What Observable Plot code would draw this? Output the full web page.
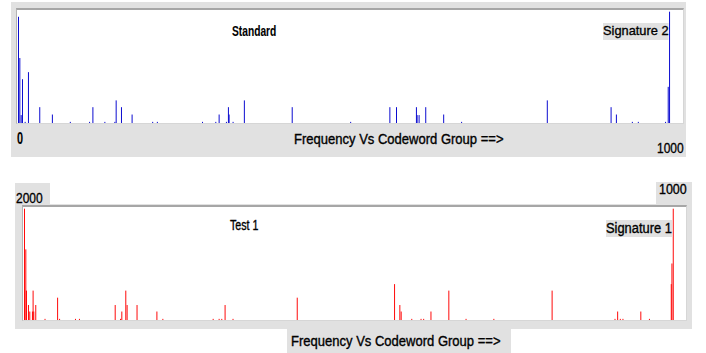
<!DOCTYPE html>
<html>
<head>
<meta charset="utf-8">
<script src="https://cdn.jsdelivr.net/npm/d3@7"></script>
<script src="https://cdn.jsdelivr.net/npm/@observablehq/plot@0.6"></script>
<style>
  html, body { margin: 0; padding: 0; background: #ffffff; }
  #page { position: relative; width: 706px; height: 353px; overflow: hidden; font-family: "Liberation Sans", Arial, sans-serif; color: #000; }
  .gray { position: absolute; background: #e1e1e1; }
  .well { position: absolute; background: #ffffff; border-top: 2px solid #a6a6a6; border-left: 1px solid #b4b4b4; border-right: 1px solid #d6d6d6; border-bottom: 1px solid #d6d6d6; }
  .well svg { display: block; }
  .lbl { position: absolute; white-space: nowrap; transform-origin: 0 0; -webkit-text-stroke: 0.35px #000; }
</style>
</head>
<body>
<div id="page"></div>
<script>
// ---- data ----
const xTickLabels = ["0", "1000"];
const yMaxLabel = "2000";
const axisTitle = "Frequency Vs Codeword Group ==>";
const panelTitles = ["Standard", "Test 1"];
const signatureLabels = ["Signature 2", "Signature 1"];

// Standard (blue) panel: codeword group and frequency
const stdGroups = [0,2,4,6,10,15,32,51,78,107,112,130,145,147,155,171,202,209,277,297,302,313,316,317,323,340,412,500,559,569,599,600,603,613,640,667,796,892,900,924,933,974,978,980];
const stdFreq   = [1880,1150,140,775,20,900,280,150,20,20,280,20,20,400,280,150,20,20,20,20,150,20,280,150,20,400,280,20,280,280,280,140,140,280,150,20,400,280,150,20,20,20,640,1970];

// Test 1 (red) panel
const testGroups = [0,2,3,6,8,12,13,14,17,31,50,53,77,83,137,145,147,153,155,170,200,209,285,294,298,303,315,412,559,567,569,585,599,603,614,641,667,709,797,892,896,900,904,931,944,977,978,980];
const testFreq   = [1970,1250,520,265,150,150,520,150,265,20,395,20,20,20,265,20,150,520,265,265,150,20,20,20,20,265,20,395,635,265,150,20,20,20,150,520,20,20,520,20,150,20,20,150,20,635,1000,1970];

const page = document.getElementById("page");

function box(cls, left, top, width, height) {
  const d = document.createElement("div");
  d.className = cls;
  Object.assign(d.style, {left: left + "px", top: top + "px", width: width + "px", height: height + "px"});
  page.appendChild(d);
  return d;
}
function label(text, left, top, size, opts = {}) {
  const d = document.createElement("div");
  d.className = "lbl";
  d.textContent = text;
  Object.assign(d.style, {
    left: left + "px", top: top + "px", fontSize: size + "px", lineHeight: size + "px",
    fontWeight: opts.bold ? "bold" : "normal",
    transform: "scaleX(" + (opts.sx || 1) + ")"
  });
  if (opts.bold) d.style.webkitTextStroke = "0.1px #000";
  if (opts.bg) { d.style.background = opts.bg; d.style.padding = "1px 0 2px 0"; }
  page.appendChild(d);
  return d;
}

function barChart(groups, freqs, color, width, xMax) {
  const rows = groups.map((g, i) => ({group: g, freq: freqs[i]}));
  return Plot.plot({
    width, height: 113,
    marginTop: 0, marginBottom: 0, marginLeft: 1, marginRight: 0,
    x: {domain: [0, xMax], axis: null},
    y: {domain: [0, 2000], axis: null},
    style: {background: "white"},
    marks: [Plot.ruleX(rows, {x: "group", y: "freq", stroke: color, strokeWidth: 1})]
  });
}

// ---- top panel (Standard) ----
box("gray", 11, 2, 675, 155);
const w1 = box("well", 16, 8, 666, 113);
w1.appendChild(barChart(stdGroups, stdFreq, "#0c0cd0", 666, 1001));
label(panelTitles[0], 232, 24.2, 14, {bold: true, sx: 0.73});
label(signatureLabels[0], 603, 23, 13.5, {sx: 0.95, bg: "#e1e1e1"});
label(xTickLabels[0], 17, 131.2, 16, {bold: true, sx: 0.68});
label(axisTitle, 294, 131.5, 14, {sx: 0.93});
label(xTickLabels[1], 657, 139.7, 15, {sx: 0.8});

// ---- bottom panel (Test 1) ----
box("gray", 15, 183, 35, 21);
box("gray", 656, 182, 36, 22);
box("gray", 15, 204, 677, 125);
box("gray", 287, 329, 224, 24);
const w2 = box("well", 22, 205, 663, 113);
w2.appendChild(barChart(testGroups, testFreq, "#ff0a0a", 663, 1000));
label(yMaxLabel, 16, 189.7, 15, {sx: 0.8});
label(xTickLabels[1], 659, 181.5, 14, {sx: 0.89});
label(panelTitles[1], 230, 218.2, 14, {sx: 0.76});
label(signatureLabels[1], 606, 219.7, 14, {sx: 0.92, bg: "#e1e1e1"});
label(axisTitle, 291, 334.2, 14, {sx: 0.93});
</script>
</body>
</html>
